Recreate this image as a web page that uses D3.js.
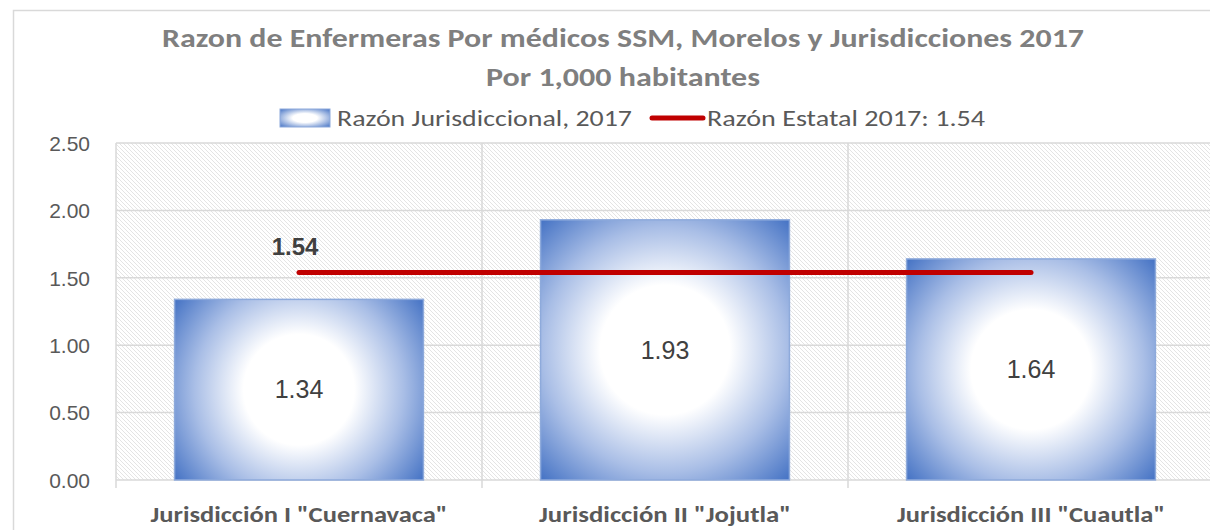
<!DOCTYPE html>
<html>
<head>
<meta charset="utf-8">
<script src="https://cdn.jsdelivr.net/npm/d3@7"></script>
<style>
  html, body { margin: 0; padding: 0; background: #fff; }
  svg { display: block; }
</style>
</head>
<body>
<div id="chart"></div>
<script>
const categories = [`Jurisdicción I "Cuernavaca"`, `Jurisdicción II "Jojutla"`, `Jurisdicción III "Cuautla"`];
const values = [1.34, 1.93, 1.64];
const stateValue = 1.54;
const yTicks = [0, 0.5, 1, 1.5, 2, 2.5];
const titleLines = [`Razon de Enfermeras Por médicos SSM, Morelos y Jurisdicciones 2017`, `Por 1,000 habitantes`];
const legendLabels = [`Razón Jurisdiccional, 2017`, `Razón Estatal 2017: 1.54`];

const width = 1210, height = 530;
const plot = { left: 116, right: 1214, top: 143, bottom: 480 };
const textFont = `Calibri, Carlito, Lato, "Open Sans", sans-serif`;
const numFont = `Arial, "Liberation Sans", sans-serif`;

const svg = d3.select(`#chart`).append(`svg`)
    .attr(`width`, width)
    .attr(`height`, height);

const defs = svg.append(`defs`);

// light diagonal hatch behind the plot
const hatch = defs.append(`pattern`)
    .attr(`id`, `hatch`)
    .attr(`patternUnits`, `userSpaceOnUse`)
    .attr(`width`, 4)
    .attr(`height`, 4);
hatch.append(`rect`).attr(`width`, 4).attr(`height`, 4).attr(`fill`, `#fff`);
hatch.append(`path`)
    .attr(`d`, `M-1,-1 L5,5 M-1,3 L1,5 M3,-1 L5,1`)
    .attr(`stroke`, `#d9d9d9`)
    .attr(`stroke-width`, 0.7);

// legend swatch gradient
const lg = defs.append(`radialGradient`)
    .attr(`id`, `legendFill`)
    .attr(`cx`, `50%`).attr(`cy`, `50%`).attr(`r`, `70%`);
lg.append(`stop`).attr(`offset`, `0%`).attr(`stop-color`, `#ffffff`);
lg.append(`stop`).attr(`offset`, `35%`).attr(`stop-color`, `#ffffff`);
lg.append(`stop`).attr(`offset`, `100%`).attr(`stop-color`, `#4472c4`);

// chart frame
svg.append(`rect`)
    .attr(`x`, 13.5).attr(`y`, 10.5)
    .attr(`width`, width).attr(`height`, height)
    .attr(`fill`, `none`)
    .attr(`stroke`, `#d9d9d9`)
    .attr(`stroke-width`, 1.5);

const x = d3.scaleBand()
    .domain(categories)
    .range([plot.left, plot.right])
    .paddingInner(0.32)
    .paddingOuter(0.16);

const y = d3.scaleLinear()
    .domain([0, 2.5])
    .range([plot.bottom, plot.top]);

const outer = x.step() * 0.16;
const cx = (c) => x(c) + x.bandwidth() / 2;

// one circular gradient per bar, white core fading out to the corners
values.forEach((v, i) => {
  const w = x.bandwidth(), h = y(0) - y(v);
  const g = defs.append(`radialGradient`)
      .attr(`id`, `bar${i}`)
      .attr(`gradientUnits`, `userSpaceOnUse`)
      .attr(`cx`, cx(categories[i]))
      .attr(`cy`, (y(v) + y(0)) / 2)
      .attr(`r`, Math.sqrt(w * w + h * h) / 2);
  g.append(`stop`).attr(`offset`, `0%`).attr(`stop-color`, `#ffffff`);
  g.append(`stop`).attr(`offset`, `36%`).attr(`stop-color`, `#ffffff`);
  g.append(`stop`).attr(`offset`, `68%`).attr(`stop-color`, `#a9bee6`);
  g.append(`stop`).attr(`offset`, `100%`).attr(`stop-color`, `#4472c4`);
});

svg.append(`rect`)
    .attr(`x`, plot.left).attr(`y`, plot.top)
    .attr(`width`, plot.right - plot.left)
    .attr(`height`, plot.bottom - plot.top)
    .attr(`fill`, `url(#hatch)`);

// horizontal gridlines
svg.append(`g`).selectAll(`line`)
    .data(yTicks)
  .enter().append(`line`)
    .attr(`x1`, plot.left).attr(`x2`, plot.right)
    .attr(`y1`, (d) => y(d)).attr(`y2`, (d) => y(d))
    .attr(`stroke`, `#d9d9d9`)
    .attr(`stroke-width`, 1.5);

// category separators
const bounds = categories.map((c) => x(c) - outer);
svg.append(`g`).selectAll(`line`)
    .data(bounds)
  .enter().append(`line`)
    .attr(`x1`, (d) => d).attr(`x2`, (d) => d)
    .attr(`y1`, plot.top).attr(`y2`, plot.bottom + 8)
    .attr(`stroke`, `#d9d9d9`)
    .attr(`stroke-width`, 1.5);

// y axis labels
const yAxis = svg.append(`g`)
    .attr(`transform`, `translate(${plot.left - 26},0)`)
    .call(d3.axisLeft(y).tickValues(yTicks).tickFormat(d3.format(`.2f`)).tickSize(0));
yAxis.select(`.domain`).remove();
yAxis.selectAll(`text`)
    .attr(`x`, 0)
    .attr(`dy`, `0.35em`)
    .style(`font-family`, numFont)
    .style(`font-size`, `21px`)
    .style(`fill`, `#595959`);

// bars
svg.append(`g`).selectAll(`rect`)
    .data(values)
  .enter().append(`rect`)
    .attr(`x`, (d, i) => x(categories[i]))
    .attr(`y`, (d) => y(d))
    .attr(`width`, x.bandwidth())
    .attr(`height`, (d) => y(0) - y(d))
    .attr(`fill`, (d, i) => `url(#bar${i})`)
    .attr(`stroke`, `#8eaadb`)
    .attr(`stroke-width`, 1.5);

svg.append(`g`).selectAll(`text`)
    .data(values)
  .enter().append(`text`)
    .attr(`x`, (d, i) => cx(categories[i]))
    .attr(`y`, (d) => (y(d) + y(0)) / 2)
    .attr(`dy`, `0.35em`)
    .attr(`text-anchor`, `middle`)
    .style(`font-family`, numFont)
    .style(`font-size`, `25px`)
    .style(`fill`, `#404040`)
    .text((d) => d.toFixed(2));

// state reference line
svg.append(`line`)
    .attr(`x1`, cx(categories[0]))
    .attr(`x2`, cx(categories[categories.length - 1]))
    .attr(`y1`, y(stateValue)).attr(`y2`, y(stateValue))
    .attr(`stroke`, `#c00000`)
    .attr(`stroke-width`, 5)
    .attr(`stroke-linecap`, `round`);

svg.append(`text`)
    .attr(`x`, cx(categories[0]) - 4)
    .attr(`y`, y(stateValue) - 17)
    .attr(`text-anchor`, `middle`)
    .style(`font-family`, numFont)
    .style(`font-size`, `24px`)
    .style(`font-weight`, `bold`)
    .style(`fill`, `#404040`)
    .text(stateValue.toFixed(2));

// category labels
svg.append(`g`).selectAll(`text`)
    .data(categories)
  .enter().append(`text`)
    .attr(`x`, (d) => cx(d))
    .attr(`y`, 522)
    .attr(`text-anchor`, `middle`)
    .attr(`textLength`, (d, i) => [297, 252, 268][i])
    .attr(`lengthAdjust`, `spacingAndGlyphs`)
    .style(`font-family`, textFont)
    .style(`font-size`, `22px`)
    .style(`font-weight`, `bold`)
    .style(`fill`, `#595959`)
    .text((d) => d);

// title
svg.append(`g`).selectAll(`text`)
    .data(titleLines)
  .enter().append(`text`)
    .attr(`x`, 623)
    .attr(`y`, (d, i) => [47, 86][i])
    .attr(`text-anchor`, `middle`)
    .attr(`textLength`, (d, i) => [922, 274][i])
    .attr(`lengthAdjust`, `spacingAndGlyphs`)
    .style(`font-family`, textFont)
    .style(`font-size`, `27px`)
    .style(`font-weight`, `bold`)
    .style(`fill`, `#7f7f7f`)
    .text((d) => d);

// legend
const legend = svg.append(`g`);
legend.append(`rect`)
    .attr(`x`, 280).attr(`y`, 109)
    .attr(`width`, 50).attr(`height`, 18)
    .attr(`fill`, `url(#legendFill)`)
    .attr(`stroke`, `#8eaadb`)
    .attr(`stroke-width`, 1);
legend.append(`text`)
    .attr(`x`, 337).attr(`y`, 126)
    .attr(`textLength`, 295)
    .attr(`lengthAdjust`, `spacingAndGlyphs`)
    .style(`font-family`, textFont)
    .style(`font-size`, `23px`)
    .style(`fill`, `#595959`)
    .text(legendLabels[0]);
legend.append(`line`)
    .attr(`x1`, 652).attr(`x2`, 703)
    .attr(`y1`, 118).attr(`y2`, 118)
    .attr(`stroke`, `#c00000`)
    .attr(`stroke-width`, 5)
    .attr(`stroke-linecap`, `round`);
legend.append(`text`)
    .attr(`x`, 707).attr(`y`, 126)
    .attr(`textLength`, 278)
    .attr(`lengthAdjust`, `spacingAndGlyphs`)
    .style(`font-family`, textFont)
    .style(`font-size`, `23px`)
    .style(`fill`, `#595959`)
    .text(legendLabels[1]);
</script>
</body>
</html>
